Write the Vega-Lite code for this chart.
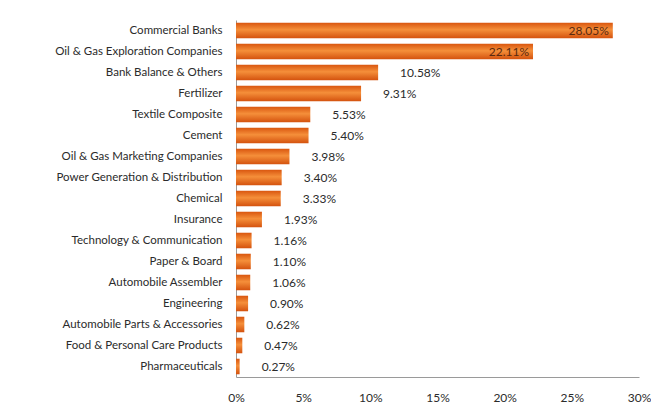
{
  "$schema": "https://vega.github.io/schema/vega-lite/v6.json",
  "autosize": "none",
  "width": 403,
  "height": 357,
  "padding": {"left": 236, "top": 20, "right": 12, "bottom": 33},
  "background": "white",
  "config": {"view": {"stroke": null}, "font": "Lato"},
  "data": {"values": [
    {"sector": "Commercial Banks", "share": 0.2805},
    {"sector": "Oil & Gas Exploration Companies", "share": 0.2211},
    {"sector": "Bank Balance & Others", "share": 0.1058},
    {"sector": "Fertilizer", "share": 0.0931},
    {"sector": "Textile Composite", "share": 0.0553},
    {"sector": "Cement", "share": 0.0540},
    {"sector": "Oil & Gas Marketing Companies", "share": 0.0398},
    {"sector": "Power Generation & Distribution", "share": 0.0340},
    {"sector": "Chemical", "share": 0.0333},
    {"sector": "Insurance", "share": 0.0193},
    {"sector": "Technology & Communication", "share": 0.0116},
    {"sector": "Paper & Board", "share": 0.0110},
    {"sector": "Automobile Assembler", "share": 0.0106},
    {"sector": "Engineering", "share": 0.0090},
    {"sector": "Automobile Parts & Accessories", "share": 0.0062},
    {"sector": "Food & Personal Care Products", "share": 0.0047},
    {"sector": "Pharmaceuticals", "share": 0.0027}
  ]},
  "encoding": {
    "y": {"field": "sector", "type": "nominal", "sort": null,
      "scale": {"paddingInner": 0.26, "paddingOuter": 0.13},
      "axis": {"title": null, "ticks": false, "domain": true, "domainColor": "#9a9a9a", "labelFontSize": 11.5, "labelColor": "#2b2b2b", "labelPadding": 14, "labelFont": "Lato"}},
    "x": {"field": "share", "type": "quantitative",
      "scale": {"domain": [0, 0.3], "nice": false},
      "axis": {"title": null, "format": ".0%", "values": [0, 0.05, 0.1, 0.15, 0.2, 0.25, 0.3], "grid": false, "ticks": false, "domainColor": "#9a9a9a", "labelFontSize": 12, "labelColor": "#2b2b2b", "labelPadding": 15, "labelFlush": false, "labelOverlap": false}}
  },
  "layer": [
    {"mark": {"type": "bar", "color": {"gradient": "linear", "x1": 0, "y1": 0, "x2": 0, "y2": 1,
      "stops": [{"offset": 0, "color": "#d9560f"}, {"offset": 0.45, "color": "#f58f3a"}, {"offset": 1, "color": "#d4520e"}]}}},
    {"transform": [{"filter": "datum.share < 0.2"}],
      "mark": {"type": "text", "align": "left", "dx": 22, "fontSize": 12, "color": "#2b2b2b"},
      "encoding": {"text": {"field": "share", "type": "quantitative", "format": ".2%"}}},
    {"transform": [{"filter": "datum.share >= 0.2"}],
      "mark": {"type": "text", "align": "right", "dx": -4, "fontSize": 12, "color": "#5a2a10"},
      "encoding": {"text": {"field": "share", "type": "quantitative", "format": ".2%"}}}
  ]
}
